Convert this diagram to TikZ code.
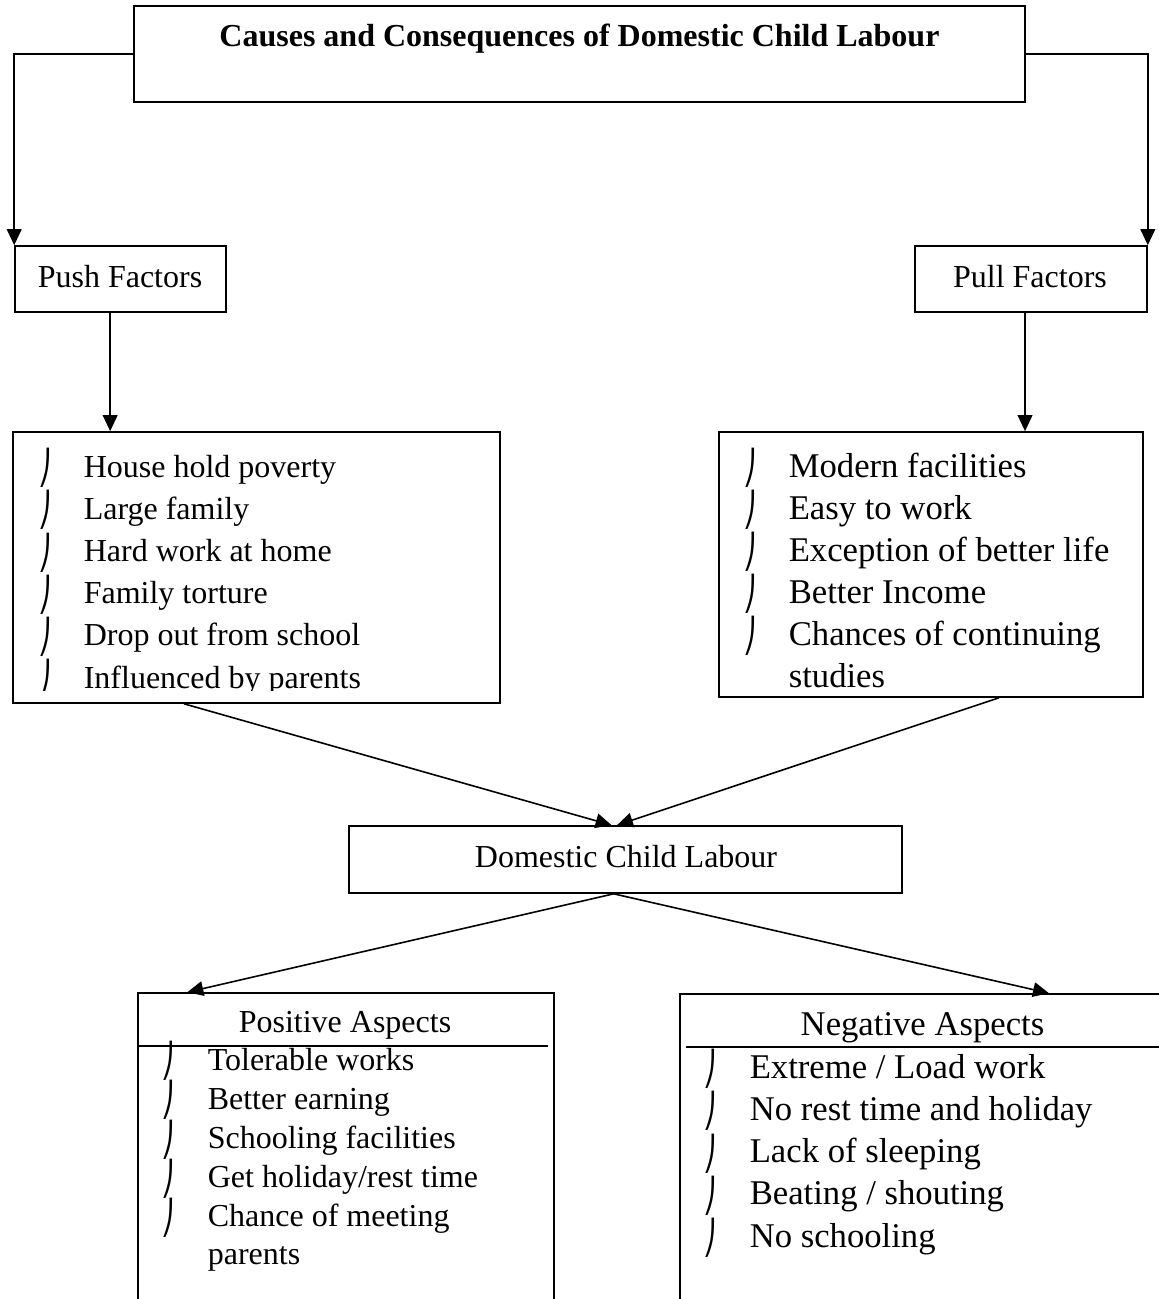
\documentclass[tikz,border=0pt]{standalone}
\usepackage{fontspec}
\setmainfont{Liberation Serif}
\newfontfamily\hookfont{DejaVu Sans}
\newcommand{\hk}{\scalebox{0.8}[1]{\hookfont\fontsize{12.5}{12.5}\selectfont ⎠}}
\usetikzlibrary{positioning,fit,arrows.meta}
\tikzset{
        >={Triangle[length=6pt,width=5.5pt]}, % filled arrow heads
        box/.style={draw, inner sep=0pt}, % plain frame, fitted to its corners
        item/.style={anchor=base west, inner sep=0pt}, % one line of a list
        hook/.style={anchor=base, inner sep=0pt, yshift=-1pt}, % list mark
        big/.style={font=\fontsize{13}{15}\selectfont},
}
\begin{document}
\fontsize{12}{14.4}\selectfont
\begin{tikzpicture}[x=0.375pt, y=-0.375pt, line width=0.6pt]
\useasboundingbox (0,0) rectangle (1159,1299);
\clip (0,0) rectangle (1159,1299);

% frames
\node[box, fit={(134,6) (1025,102)}] (title) {};
\node[box, fit={(15,246) (226,312)}] (push) {};
\node[box, fit={(915,246) (1147,312)}] (pull) {};
\node[box, fit={(13,432) (500,703)}] (pushlist) {};
\node[box, fit={(719,432) (1143,697)}] (pulllist) {};
\node[box, fit={(349,826) (902,893)}] (dcl) {};
\node[box, fit={(138,993) (554,1320)}] (posbox) {};
\node[box, fit={(680,994) (1180,1320)}] (negbox) {};
\draw (138,1046) -- (548,1046);
\draw (686,1047) -- (1170,1047);

% headings
\node[anchor=base, font=\bfseries] (titletxt) at (579.5,46) {Causes and Consequences of Domestic Child Labour};
\node[anchor=base] (pushtxt) at (120,287) {Push Factors};
\node[anchor=base] (pulltxt) at (1030,287) {Pull Factors};
\node[anchor=base] (dcltxt) at (626,867) {Domestic Child Labour};
\node[anchor=base] (postxt) at (345,1032) {Positive Aspects};
\node[anchor=base, big] (negtxt) at (922.5,1035) {Negative Aspects};

% lists
\begin{scope}
\clip (0,0) rectangle (1159,690);
\foreach \t [count=\i from 0] in {House hold poverty, Large family, Hard work at home,
    Family torture, Drop out from school, Influenced by parents} {
  \node[hook] (pushb\i) at (45,{477+42.2*\i}) {\hk};
  \node[item] (pushi\i) at (83,{477+42.2*\i}) {\t};
}
\end{scope}
\foreach \t [count=\i from 0] in {Modern facilities, Easy to work, Exception of better life,
    Better Income, Chances of continuing} {
  \node[hook] (pullb\i) at (750,{477+42*\i}) {\hk};
  \node[item, big] (pulli\i) at (788,{477+42*\i}) {\t};
}
\node[item, big] (pulli5) at (788,687) {studies};
\foreach \t [count=\i from 0] in {Tolerable works, Better earning, Schooling facilities,
    Get holiday/rest time, Chance of meeting} {
  \node[hook] (posb\i) at (168,{1070+39.2*\i}) {\hk};
  \node[item] (posi\i) at (207,{1070+39.2*\i}) {\t};
}
\node[item] (posi5) at (207,1264) {parents};
\foreach \t [count=\i from 0] in {Extreme / Load work, No rest time and holiday,
    Lack of sleeping, Beating / shouting, No schooling} {
  \node[hook] (negb\i) at (710,{1078+42.3*\i}) {\hk};
  \node[item, big] (negi\i) at (749,{1078+42.3*\i}) {\t};
}

% connectors
\draw[->] (title.west) -| (push.north west);
\draw[->] (title.east) -| (pull.north east);
\draw[->] (push.-107) -- (push.-107 |- pushlist.north);
\draw[->] (pull.-100) -- (pull.-100 |- pulllist.north);
\draw[->] (pushlist.-118.5) -- (dcl.112);
\draw[->] (pulllist.-63) -- (dcl.104);
\draw[->] (dcl.-109) -- (posbox.134.9);
\draw[->] (dcl.-109) -- (negbox.54.8);

\end{tikzpicture}
\end{document}
